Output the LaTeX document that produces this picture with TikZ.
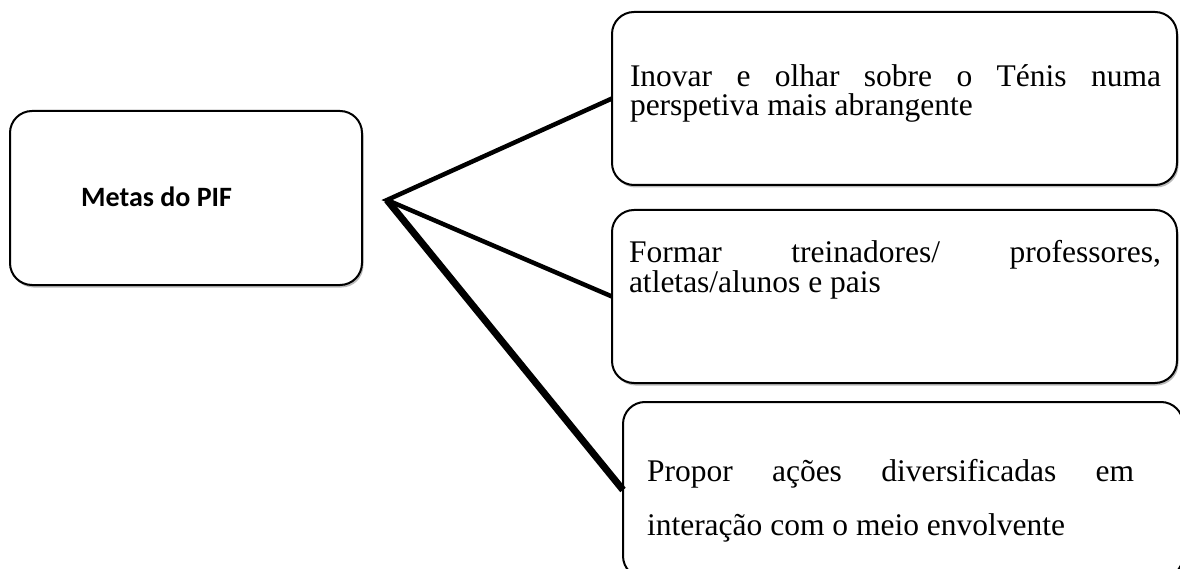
\documentclass[tikz,border=0pt]{standalone}
\usepackage{fontspec}
\setmainfont{Liberation Serif}
\newfontfamily\calib{Carlito}
\usetikzlibrary{shadows}
\tikzset{
  goalbox/.style={draw=black, line width=2pt, rounded corners=22pt, fill=white,
    drop shadow={shadow xshift=1.5pt, shadow yshift=-2.5pt, fill=black!45, opacity=0.6},
    inner sep=0pt, outer sep=0pt},
  link/.style={line width=4.5pt, line join=miter, line cap=butt},
  thicklink/.style={line width=7pt, line cap=butt},
  goaltext/.style={anchor=base west, inner sep=0pt, outer sep=0pt,
    font=\fontsize{31.5}{28.5}\selectfont},
}
\newcommand{\jtext}[2]{\parbox[t]{#1}{\tolerance=10000\hyphenpenalty=10000\exhyphenpenalty=10000 #2}}
\begin{document}
\begin{tikzpicture}[x=1pt, y=-1pt]
\useasboundingbox (0,0) rectangle (1180,569);
\clip (0,0) rectangle (1180,569);
% boxes
\node[goalbox, minimum width=352pt, minimum height=174pt] (metas) at (186,198) {};
\node[goalbox, minimum width=565pt, minimum height=173pt] (top) at (894.5,98.5) {};
\node[goalbox, minimum width=565pt, minimum height=173pt] (mid) at (894.5,296.5) {};
\node[goalbox, minimum width=560pt, minimum height=176pt] (bot) at (903,490) {};
% texts
\node[anchor=base west, inner sep=0pt, font=\calib\bfseries\fontsize{28}{32}\selectfont] (metastxt) at (81,207) {Metas do PIF};
\node[goaltext] (toptxt) at (630,87) {\jtext{531pt}{Inovar e olhar sobre o Ténis numa perspetiva mais abrangente}};
\node[goaltext] (midtxt) at (629,263) {\jtext{532pt}{Formar treinadores/ professores, atletas/alunos e pais}};
\node[goaltext, font=\fontsize{31.5}{54}\selectfont] (bottxt) at (647,481) {\jtext{487pt}{Propor ações diversificadas em interação com o meio envolvente}};
% connectors
\coordinate (hub) at (387,200);
\draw[link] (top.west) -- (hub) -- (mid.west);
\draw[thicklink] (hub) -- (bot.west);
\end{tikzpicture}
\end{document}
